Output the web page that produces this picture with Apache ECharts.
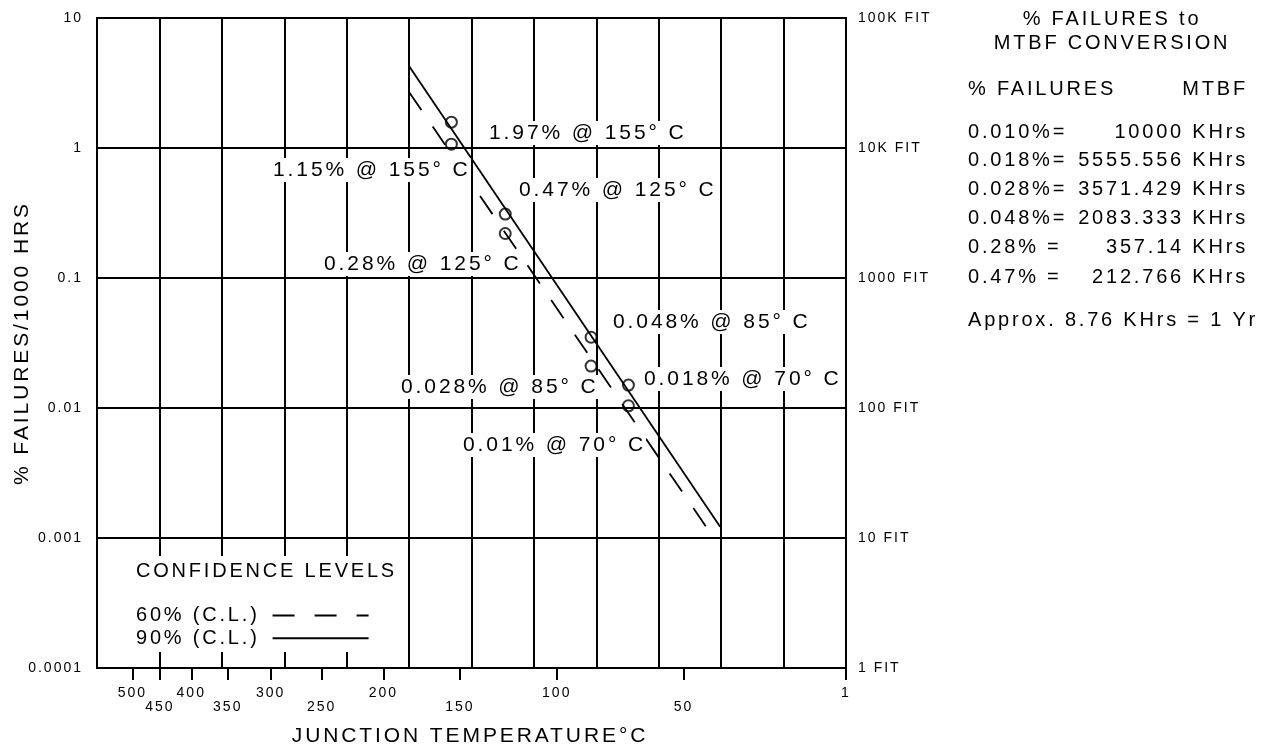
<!DOCTYPE html>
<html><head><meta charset="utf-8">
<script src="https://cdn.jsdelivr.net/npm/echarts@6/dist/echarts.min.js"></script>
<style>html,body{margin:0;padding:0;background:#fff}#chart{width:1281px;height:747px}</style>
</head><body><div id="chart"></div>
<script>
// ---- loose tracking like the original typesetting (style only) ----
(function(){
  var P = CanvasRenderingContext2D.prototype;
  var d = Object.getOwnPropertyDescriptor(P, 'font');
  if (d && d.set && ('letterSpacing' in P)) {
    Object.defineProperty(P, 'font', {
      configurable: true, enumerable: d.enumerable,
      get: function(){ return d.get.call(this); },
      set: function(v){ d.set.call(this, v); var m = /(\d+(?:\.\d+)?)px/.exec(v); var s = m ? parseFloat(m[1]) : 12; this.letterSpacing = (s * 0.14).toFixed(1) + 'px'; }
    });
  }
})();

// ---------------- data ----------------
const upperTempTicks = [500, 400, 300, 200, 100, 1];
const lowerTempTicks = [450, 350, 250, 150, 50];
const yTickLabels = ['0.0001', '0.001', '0.01', '0.1', '1', '10'];
const fitTickLabels = ['1 FIT', '10 FIT', '100 FIT', '1000 FIT', '10K FIT', '100K FIT'];

const pointTemps = [155, 125, 85, 70];
const fail90 = [1.58, 0.31, 0.035, 0.015];
const fail60 = [1.07, 0.22, 0.021, 0.0104];
const labels90 = ['1.97% @ 155\u00B0 C', '0.47% @ 125\u00B0 C', '0.048% @ 85\u00B0 C', '0.018% @ 70\u00B0 C'];
const labels60 = ['1.15% @ 155\u00B0 C', '0.28% @ 125\u00B0 C', '0.028% @ 85\u00B0 C', '0.01% @ 70\u00B0 C'];

const line90Temps = [182, 38];
const line90Vals = [4.27, 0.00122];
const line60Temps = [182, 39];
const line60Vals = [2.70, 0.00092];

const convPct = ['0.010%=', '0.018%=', '0.028%=', '0.048%=', '0.28% =', '0.47% ='];
const convMtbf = ['10000 KHrs', '5555.556 KHrs', '3571.429 KHrs', '2083.333 KHrs', '357.14 KHrs', '212.766 KHrs'];

// ---------------- scales ----------------
const toU = t => 1000 / (t + 273.15);          // Arrhenius abscissa, 1000/K
const X_MIN = 1.1775, X_MAX = 3.6252;
const allTicks = upperTempTicks.concat(lowerTempTicks);
const tickU = allTicks.map(t => Math.min(toU(t), X_MAX));

const FONT = '"Liberation Sans", Arial, Helvetica, sans-serif';

function tempLabel(v) {
  let best = 0, bd = Infinity;
  tickU.forEach((u, i) => { const dd = Math.abs(u - v); if (dd < bd) { bd = dd; best = i; } });
  const t = allTicks[best];
  return lowerTempTicks.indexOf(t) >= 0 ? '\n' + t : String(t);
}
const logIdx = v => Math.round(Math.log10(v)) + 4;

const chart = echarts.init(document.getElementById('chart'), null, { renderer: 'canvas' });

const txt = (s, x, y, size, align, extra) => Object.assign({ type: 'text', z: 5, style: Object.assign({ text: s, x: x, y: y, textAlign: align || 'left', textVerticalAlign: 'middle', font: size + 'px ' + FONT, fill: '#000' }, extra || {}) });

const graphics = [];
graphics.push({ type: 'rect', z: 1, shape: { x: 99, y: 556, width: 307, height: 96 }, style: { fill: '#fff' } });
graphics.push(txt('CONFIDENCE LEVELS', 136, 571, 20));
const pos90 = [[489, 133], [519, 190], [613, 322], [644, 379]];
const pos60 = [[273, 170], [324, 264], [401, 387], [463, 445]];
labels90.forEach((s, i) => graphics.push(txt(s, pos90[i][0], pos90[i][1], 21, 'left', { backgroundColor: '#fff' })));
labels60.forEach((s, i) => graphics.push(txt(s, pos60[i][0], pos60[i][1], 21, 'left', { backgroundColor: '#fff' })));
graphics.push(txt('JUNCTION TEMPERATURE\u00B0C', 470, 736, 21, 'center'));
graphics.push(txt('% FAILURES to', 1112, 19, 20, 'center'));
graphics.push(txt('MTBF CONVERSION', 1112, 43, 20, 'center'));
graphics.push(txt('% FAILURES', 968, 89, 20));
graphics.push(txt('MTBF', 1248, 89, 20, 'right'));
const rowY = [132, 160, 189, 218, 247, 277];
convPct.forEach((s, i) => {
  graphics.push(txt(s, 968, rowY[i], 20));
  graphics.push(txt(convMtbf[i], 1248, rowY[i], 20, 'right'));
});
graphics.push(txt('Approx. 8.76 KHrs = 1 Yr', 968, 320, 20));

const option = {
  backgroundColor: '#fff',
  animation: false,
  textStyle: { fontFamily: FONT, color: '#000' },
  grid: { left: 97, right: 435, top: 18, bottom: 79, outerBoundsMode: 'none', containLabel: false, show: true, borderColor: '#000', borderWidth: 2, backgroundColor: 'transparent' },
  xAxis: [
    {
      type: 'value', min: X_MIN, max: X_MAX, position: 'bottom',
      axisLine: { show: true, lineStyle: { color: '#000', width: 2 } },
      axisTick: { show: true, customValues: tickU, length: 12, inside: false, lineStyle: { color: '#000', width: 2 } },
      axisLabel: { show: true, customValues: tickU, formatter: tempLabel, color: '#000', fontSize: 14, lineHeight: 14, margin: 18, fontFamily: FONT },
      splitLine: { show: false }
    },
    {
      type: 'value', min: 0, max: 12, interval: 1, position: 'bottom',
      axisLine: { show: false }, axisTick: { show: false }, axisLabel: { show: false },
      splitLine: { show: true, lineStyle: { color: '#000', width: 2 } }
    }
  ],
  yAxis: [
    {
      type: 'log', logBase: 10, min: 0.0001, max: 10,
      name: '% FAILURES/1000 HRS', nameLocation: 'middle', nameRotate: 90, nameGap: 63, nameMoveOverlap: false,
      nameTextStyle: { fontSize: 21, color: '#000', fontFamily: FONT },
      axisLine: { show: true, lineStyle: { color: '#000', width: 2 } },
      axisTick: { show: false },
      axisLabel: { formatter: v => yTickLabels[logIdx(v)], color: '#000', fontSize: 14, margin: 14, fontFamily: FONT },
      splitLine: { show: true, lineStyle: { color: '#000', width: 2 } }
    },
    {
      type: 'log', logBase: 10, min: 0.0001, max: 10, position: 'right',
      axisLine: { show: true, lineStyle: { color: '#000', width: 2 } },
      axisTick: { show: false },
      axisLabel: { formatter: v => fitTickLabels[logIdx(v)], color: '#000', fontSize: 14, margin: 12, fontFamily: FONT },
      splitLine: { show: false }
    }
  ],
  legend: {
    orient: 'vertical', left: 136, top: 604, padding: 0, align: 'right',
    itemWidth: 96, itemHeight: 14, itemGap: 0, selectedMode: false, z: 6,
    itemStyle: { opacity: 0 },
    data: ['60% (C.L.)', '90% (C.L.)'],
    textStyle: { color: '#000', fontSize: 20, lineHeight: 20, fontFamily: FONT, padding: [0, 8, 0, 0] }
  },
  graphic: graphics,
  series: [
    {
      name: '90% (C.L.)', type: 'line', xAxisIndex: 0, yAxisIndex: 0, symbol: 'none', z: 3,
      data: line90Temps.map((t, i) => [toU(t), line90Vals[i]]),
      lineStyle: { color: '#000', width: 1.8, type: 'solid' }, itemStyle: { color: '#000' }
    },
    {
      name: '60% (C.L.)', type: 'line', xAxisIndex: 0, yAxisIndex: 0, symbol: 'none', z: 3,
      data: line60Temps.map((t, i) => [toU(t), line60Vals[i]]),
      lineStyle: { color: '#000', width: 1.8, type: [22, 20] }, itemStyle: { color: '#000' }
    },
    {
      name: '90% points', type: 'scatter', xAxisIndex: 0, yAxisIndex: 0, z: 4,
      symbol: 'circle', symbolSize: 11,
      data: pointTemps.map((t, i) => [toU(t), fail90[i]]),
      itemStyle: { color: 'rgba(255,255,255,0)', borderColor: '#000', borderWidth: 2 }
    },
    {
      name: '60% points', type: 'scatter', xAxisIndex: 0, yAxisIndex: 0, z: 4,
      symbol: 'circle', symbolSize: 11,
      data: pointTemps.map((t, i) => [toU(t), fail60[i]]),
      itemStyle: { color: 'rgba(255,255,255,0)', borderColor: '#000', borderWidth: 2 }
    }
  ]
};
chart.setOption(option);
</script>
</body></html>
